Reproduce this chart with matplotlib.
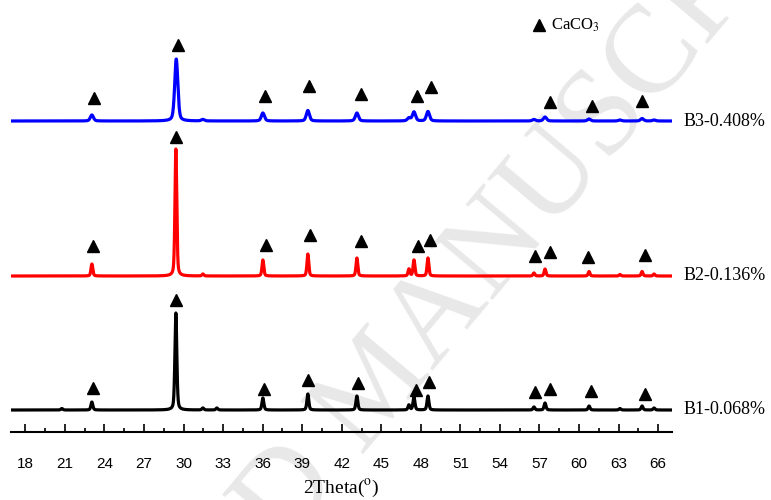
import numpy as np
import matplotlib
matplotlib.use("Agg")
import matplotlib.pyplot as plt

plt.rcParams['mathtext.fontset'] = 'stix'

# peak positions (2theta) and heights, per sample
b1_pos = [20.77, 23.05, 29.42, 31.47, 32.53, 36.02, 39.43, 43.15, 47.10, 47.48, 48.54, 56.58, 57.42, 60.76, 63.10, 64.78, 65.69]
b1_h = [1.5, 8, 97, 2, 2, 12, 16, 14, 5, 13, 14, 3, 7, 4, 1.5, 4, 2]

b2_pos = [23.05, 29.42, 31.47, 36.02, 39.43, 43.15, 47.10, 47.48, 48.54, 56.58, 57.42, 60.76, 63.10, 64.78, 65.69]
b2_h = [12, 127, 2, 16, 22, 18, 7, 16, 18, 3, 7, 4.5, 1.5, 4.5, 2]

b3_pos = [23.05, 29.45, 31.47, 36.02, 39.43, 43.15, 47.10, 47.48, 48.54, 56.58, 57.42, 60.76, 63.10, 64.78, 65.69]
b3_h = [6, 62, 1.5, 8, 10.5, 8, 3, 9, 9.5, 1.5, 4, 2, 1, 2.5, 1]

offsets = [22, 156, 311]
widths = [0.17, 0.16, 0.28]
labels = ['B1-0.068%', 'B2-0.136%', 'B3-0.408%']
colors = ['black', 'red', 'blue']

# CaCO3 marks (2theta, height) per sample
b1_tri_x = [23.12, 29.42, 36.10, 39.43, 43.23, 47.63, 48.60, 56.66, 57.80, 60.90, 64.97]
b1_tri_y = [44, 132, 43, 52, 49, 42, 50, 40, 43, 41, 38]
b2_tri_x = [23.12, 29.42, 36.25, 39.60, 43.45, 47.78, 48.69, 56.66, 57.80, 60.68, 64.97]
b2_tri_y = [186, 295, 187, 197, 191, 186, 192, 176, 180, 175, 177]
b3_tri_x = [23.20, 29.57, 36.17, 39.50, 43.45, 47.70, 48.80, 57.80, 61.00, 64.80]
b3_tri_y = [334, 387, 336, 346, 338, 336, 345, 330, 326, 331]

two_theta = np.arange(17.0, 67.1, 0.01)


def profile(pos, h, w):
    y = np.zeros_like(two_theta)
    for p, a in zip(pos, h):
        g = np.exp(-4 * np.log(2) * ((two_theta - p) / w) ** 2)
        l = 1 / (1 + 4 * ((two_theta - p) / w) ** 2)
        y += a * (0.6 * g + 0.4 * l)
    return y


fig = plt.figure(figsize=(7.71, 5), dpi=100)
ax = fig.add_axes([0.014, 0.136, 0.8576, 0.864])
ax.set_facecolor('none')

# faint watermark behind everything
fig.text(0.493, 0.224, 'ACCEPTED MANUSCRIPT', rotation=50, rotation_mode='anchor',
         ha='center', va='center', fontsize=90, color='#e8e8e8',
         family='Liberation Serif', zorder=-1)

series = [(b1_pos, b1_h), (b2_pos, b2_h), (b3_pos, b3_h)]
for (pos, h), off, w, c, lab in zip(series, offsets, widths, colors, labels):
    ax.plot(two_theta, profile(pos, h, w) + off, color=c, lw=2.3)
    ax.text(67.9, off, lab, ha='left', va='center', fontsize=13,
            family='Liberation Serif', clip_on=False)

for tx, ty in [(b1_tri_x, b1_tri_y), (b2_tri_x, b2_tri_y), (b3_tri_x, b3_tri_y)]:
    ax.plot(tx, ty, '^', color='black', ms=8.5, ls='none', clip_on=False)

# legend
ax.plot([56.96], [407], '^', color='black', ms=8.5, clip_on=False)
ax.text(57.85, 407, 'CaCO$_3$', ha='left', va='center', fontsize=12,
        family='Liberation Serif')

ax.set_xlim(16.9, 67.05)
ax.set_ylim(0, 432)
for s in ['left', 'right', 'top']:
    ax.spines[s].set_visible(False)
ax.spines['bottom'].set_linewidth(1.5)
ax.set_yticks([])
ax.set_xticks(np.arange(18, 67, 3))
ax.set_xticks(np.arange(19.5, 67, 3), minor=True)
ax.tick_params(axis='x', which='major', direction='in', length=6, width=1.2,
               labelsize=11, pad=18)
ax.tick_params(axis='x', which='minor', direction='in', length=3, width=1.2)
for t in ax.get_xticklabels():
    t.set_family('Liberation Sans')
ax.set_xlabel('2Theta($^\\mathrm{o}$)', fontsize=14, family='Liberation Serif',
              labelpad=5)

fig.savefig('out.png', dpi=100)
